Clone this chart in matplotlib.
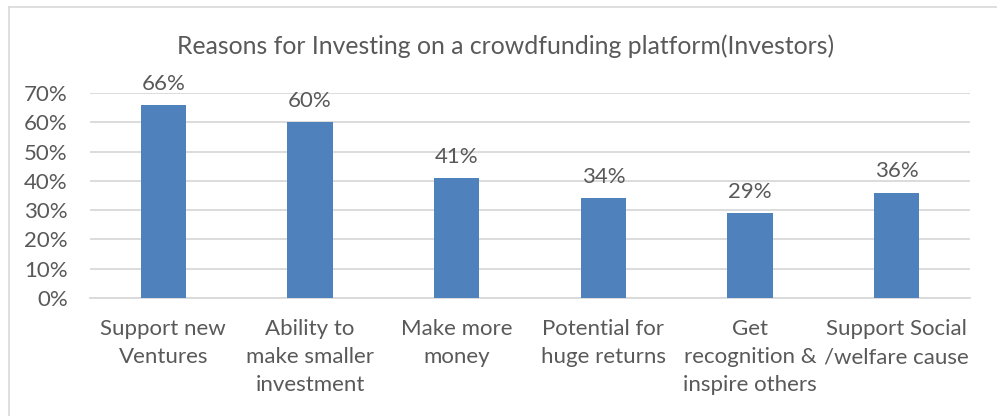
import matplotlib
matplotlib.use('Agg')
import matplotlib.pyplot as plt
from matplotlib.lines import Line2D

# data
categories = ['Support new\nVentures', 'Ability to\nmake smaller\ninvestment', 'Make more\nmoney',
              'Potential for\nhuge returns', 'Get\nrecognition &\ninspire others', 'Support Social\n/welfare cause']
values = [0.66, 0.60, 0.41, 0.34, 0.29, 0.36]
yticks = [0, 0.1, 0.2, 0.3, 0.4, 0.5, 0.6, 0.7]
title = 'Reasons for Investing on a crowdfunding platform(Investors)'

plt.rcParams['font.family'] = ['Lato', 'DejaVu Sans']
txt = '#595959'
grid = '#D9D9D9'
bar_col = '#4F81BD'

fig = plt.figure(figsize=(9.97, 4.16), dpi=100)
ax = fig.add_axes([90 / 997, 1 - 298 / 416, 880 / 997, 205 / 416])

x = range(len(categories))
bars = ax.bar(x, values, width=0.31, color=bar_col, zorder=3)
for b, v in zip(bars, values):
    ax.annotate('{:.0%}'.format(v), (b.get_x() + b.get_width() / 2, v),
                xytext=(0, 8), textcoords='offset points', ha='center', va='bottom',
                fontsize=16, color=txt)

ax.set_xlim(-0.5, len(categories) - 0.5)
ax.set_ylim(0, 0.7)
ax.set_yticks(yticks)
ax.set_yticklabels(['{:.0%}'.format(t) for t in yticks])
ax.set_xticks(list(x))
ax.set_xticklabels(categories, linespacing=1.52)
ax.tick_params(axis='both', length=0, labelsize=16, labelcolor=txt)
ax.tick_params(axis='x', pad=15)
ax.tick_params(axis='y', pad=16)
ax.grid(axis='y', color=grid, lw=1.3, zorder=0)
for s in ['top', 'right', 'left']:
    ax.spines[s].set_visible(False)
ax.spines['bottom'].set_color(grid)
ax.spines['bottom'].set_linewidth(1.3)

fig.text(0.507, 1 - 46 / 416, title, ha='center', va='center', fontsize=17.8, color=txt)

# chart frame (top and left edges visible)
fig.add_artist(Line2D([9 / 997, 9 / 997], [0, 1 - 7 / 416], color=grid, lw=1.2))
fig.add_artist(Line2D([9 / 997, 1], [1 - 7 / 416, 1 - 7 / 416], color=grid, lw=1.2))

fig.savefig('out.png', dpi=100)
